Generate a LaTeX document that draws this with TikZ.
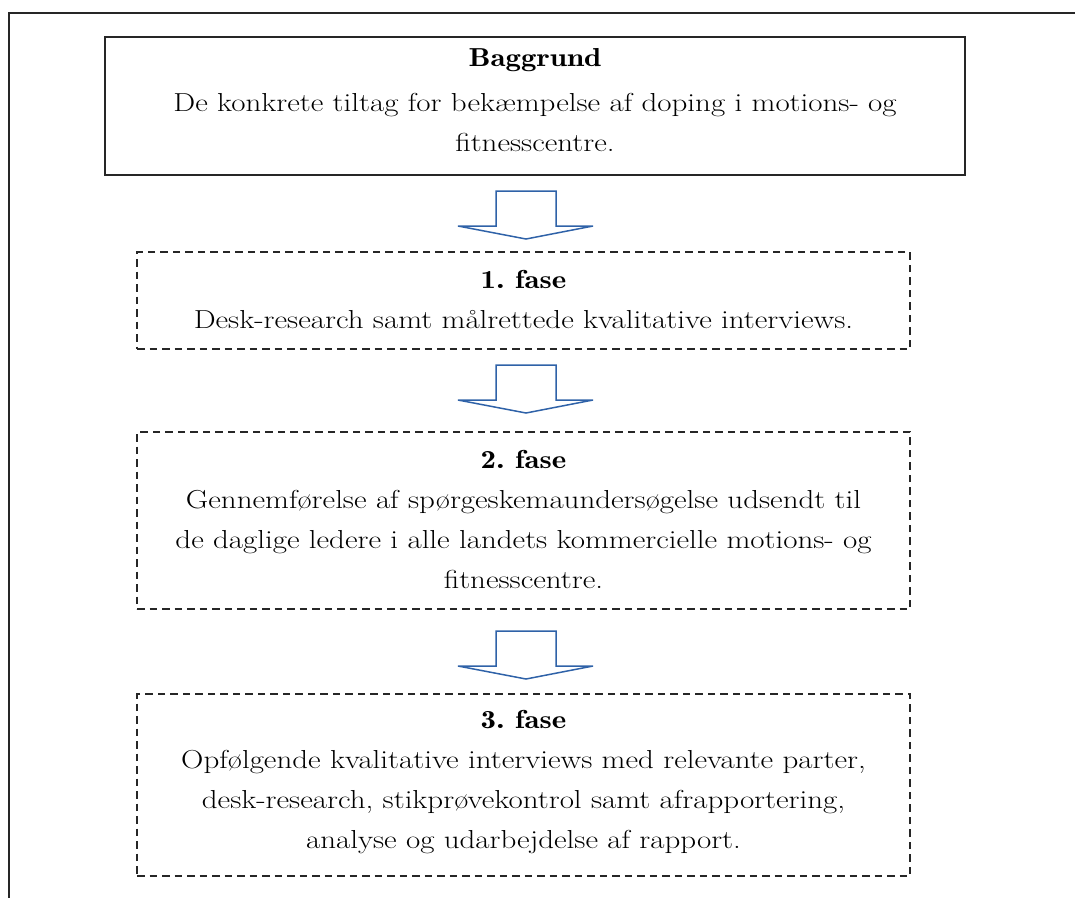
\documentclass[tikz,border=0pt]{standalone}
\usepackage{graphicx}
\usetikzlibrary{calc}
\definecolor{framegray}{RGB}{38,38,38}
\definecolor{arrowblue}{RGB}{47,98,168}
\newcommand{\widelines}[1]{\scalebox{1.19}[1]{\begin{tabular}[b]{@{}c@{}}#1\end{tabular}}}
\newcommand{\headline}[1]{{\fontseries{b}\selectfont #1}}
\tikzset{
  outerframe/.style={draw=framegray, line width=1.5pt},
  solidbox/.style={draw=framegray, line width=1.5pt, rectangle, inner sep=0pt},
  dashbox/.style={draw=framegray, line width=1.3pt, dash pattern=on 7.5pt off 5pt, rectangle, inner sep=0pt, minimum width=773pt},
  boxtext/.style={font=\fontsize{26}{40}\selectfont, inner sep=0pt, anchor=base, text=black},
  blockarrow/.style={draw=arrowblue, line width=1.5pt, line join=miter},
}
\newcommand{\blockarr}[1]{%
  \draw[blockarrow] (#1) ++(-30,0) -- ++(60,0) -- ++(0,35) -- ++(37,0) -- ++(-67,13) -- ++(-68,-13) -- ++(38,0) -- cycle;}
\begin{document}
\begin{tikzpicture}[x=1pt,y=-1pt]
\useasboundingbox (0,0) rectangle (1075,898);
\coordinate (fr1) at (1075,13);
\coordinate (fr2) at (9,13);
\coordinate (fr3) at (9,898);
\draw[outerframe] (fr1) -- (fr2) -- (fr3);

\node[solidbox, minimum width=860pt, minimum height=138pt] (b0) at (535,106) {};
\node[dashbox, minimum height=97pt] (b1) at (523.5,300.5) {};
\node[dashbox, minimum height=177pt] (b2) at (523.5,520.5) {};
\node[dashbox, minimum height=182pt] (b3) at (523.5,785) {};

\node[boxtext] (t0) at (535,151) {\widelines{\headline{Baggrund}\\[5pt]
De konkrete tiltag for bekæmpelse af doping i motions- og\\
fitnesscentre.}};
\node[boxtext] (t1) at (523.5,328) {\widelines{\headline{1.\ fase}\\
Desk-research samt målrettede kvalitative interviews.}};
\node[boxtext] (t2) at (523.5,588) {\widelines{\headline{2.\ fase}\\
Gennemførelse af spørgeskemaundersøgelse udsendt til\\
de daglige ledere i alle landets kommercielle motions- og\\
fitnesscentre.}};
\node[boxtext] (t3) at (523.5,848) {\widelines{\headline{3.\ fase}\\
Opfølgende kvalitative interviews med relevante parter,\\
desk-research, stikprøvekontrol samt afrapportering,\\
analyse og udarbejdelse af rapport.}};

\coordinate (a1) at (526,191);
\coordinate (a2) at (526,365);
\coordinate (a3) at (526,631);
\blockarr{a1}
\blockarr{a2}
\blockarr{a3}
\end{tikzpicture}
\end{document}
